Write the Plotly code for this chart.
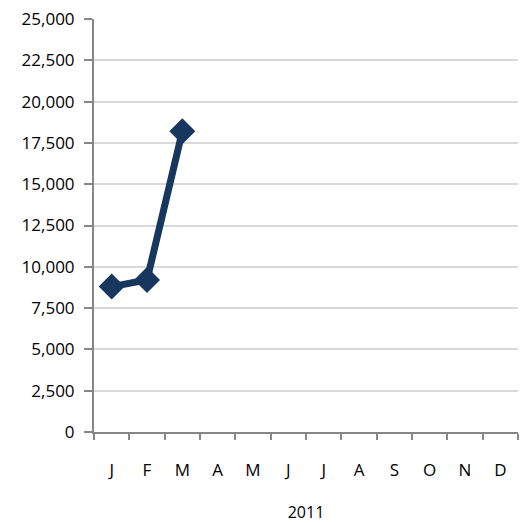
import plotly.graph_objects as go

months = ["J", "F", "M", "A", "M", "J", "J", "A", "S", "O", "N", "D"]
values = [8800, 9200, 18200]
year_label = "2011"
y_ticks = list(range(0, 25001, 2500))

x_pos = list(range(len(values)))
fig = go.Figure()
fig.add_trace(go.Scatter(
    x=x_pos, y=values, mode="lines+markers",
    line=dict(color="#17375e", width=7),
    marker=dict(symbol="diamond", size=20, color="#17375e"),
    showlegend=False, hoverinfo="skip", cliponaxis=False,
))

font = dict(family="Open Sans, DejaVu Sans, sans-serif", size=17, color="#000000")
title_font = dict(family="Open Sans, DejaVu Sans, sans-serif", size=16, color="#000000")
fig.update_layout(
    width=520, height=523,
    margin=dict(l=94, r=2, t=19, b=91, autoexpand=False),
    paper_bgcolor="white", plot_bgcolor="white",
    font=font,
    xaxis=dict(
        range=[-0.5, len(months) - 0.5],
        tickmode="array",
        tickvals=list(range(len(months))),
        ticktext=months,
        ticks="", showgrid=False, zeroline=False,
        showline=True, linecolor="#868686", linewidth=2,
        ticklabelstandoff=22,
        automargin=False,
        minor=dict(
            tickmode="array",
            tickvals=[i - 0.5 for i in range(len(months) + 1)],
            ticks="outside", ticklen=6, tickwidth=2, tickcolor="#868686",
            showgrid=False,
        ),
        title=dict(text=year_label, standoff=31, font=title_font),
        fixedrange=True,
    ),
    yaxis=dict(
        range=[0, 25000],
        tickmode="array",
        tickvals=y_ticks,
        ticktext=[f"{v:,}" for v in y_ticks],
        ticks="outside", ticklen=8, tickwidth=2, tickcolor="#868686",
        showgrid=True, gridcolor="#d9d9d9", gridwidth=2,
        zeroline=False,
        showline=True, linecolor="#868686", linewidth=2,
        ticklabelstandoff=6,
        automargin=False,
        fixedrange=True,
    ),
)
fig.write_html(
    "out.html",
    config={"displayModeBar": False},
    post_script="document.body.style.margin='0';document.body.style.overflow='hidden';",
)
